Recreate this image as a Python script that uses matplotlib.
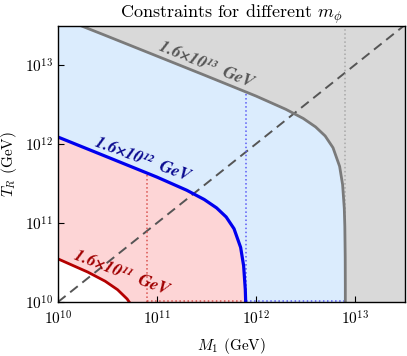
import matplotlib
matplotlib.use("Agg")
import matplotlib.pyplot as plt

plt.rcParams['font.family'] = ['cmr10', 'DejaVu Serif']
plt.rcParams['mathtext.fontset'] = 'cm'
plt.rcParams['axes.formatter.use_mathtext'] = True
plt.rcParams['axes.unicode_minus'] = False

# curve points (M1 in GeV, T_R in GeV)
m_gray = [1e10, 3e10, 1e11, 3e11, 1e12, 2e12, 3e12, 4e12, 5e12, 6e12, 7e12,
          7.5e12, 7.8e12, 7.9e12, 7.97e12, 7.99e12, 7.998e12]
t_gray = [4.07e13, 2.36e13, 1.29e13, 7.43e12, 4.03e12, 2.74e12, 2.10e12, 1.64e12,
          1.26e12, 8.95e11, 5.19e11, 3.05e11, 1.53e11, 9.06e10, 3.67e10, 1.6e10, 4.8e9]

m_blue = [1e10, 3e10, 1e11, 2e11, 3e11, 4e11, 5e11, 6e11, 7e11, 7.5e11,
          7.8e11, 7.9e11, 7.97e11]
t_blue = [1.22e12, 7.0e11, 3.80e11, 2.59e11, 1.98e11, 1.55e11, 1.19e11, 8.45e10,
          4.9e10, 2.88e10, 1.44e10, 8.6e9, 3.5e9]

m_red = [1e10, 2e10, 3e10, 4e10, 5e10, 6e10, 7e10]
t_red = [3.51e10, 2.39e10, 1.83e10, 1.43e10, 1.09e10, 7.8e9, 4.5e9]

# dotted markers at M1 = m_phi / 2
m_half = [8e10, 8e11, 8e12]
t_top = [4.27e11, 4.5e12, 3.2e13]

labels = ['1.6×10¹¹  GeV', '1.6×10¹²  GeV', '1.6×10¹³  GeV']

xmin, xmax = 1e10, 3.2e13
ymin, ymax = 1e10, 3.1e13

fig = plt.figure(figsize=(4.07, 3.56), dpi=100)
ax = fig.add_axes([0.1425, 0.1517, 0.8525, 0.7753])
ax.set_facecolor('#d9d9d9')

ax.fill_between(m_gray, 1e8, t_gray, color='#dbecfd', lw=0)
ax.fill_between(m_blue, 1e8, t_blue, color='#fdd5d6', lw=0)
ax.fill_between(m_red, 1e8, t_red, color='white', lw=0)

# T_R = M1
ax.plot([xmin, xmax], [xmin, xmax], ls=(0, (5, 3)), color='#555555', lw=1.4)

ax.plot([m_half[0]] * 2, [ymin, t_top[0]], ls=':', color='#d9534f', lw=1.1)
ax.plot([m_half[1]] * 2, [ymin, t_top[1]], ls=':', color='#5a5af5', lw=1.1)
ax.plot([m_half[2]] * 2, [ymin, t_top[2]], ls=':', color='#a8a8a8', lw=1.1)
ax.plot([m_half[0], m_half[1]], [ymin * 1.02] * 2, ls=':', color='#d9534f', lw=1.1)
ax.plot([m_half[1], m_half[2]], [ymin * 1.02] * 2, ls=':', color='#5a5af5', lw=1.1)

ax.plot(m_gray, t_gray, color='#7a7a7a', lw=2.0)
ax.plot(m_blue, t_blue, color='#0000ee', lw=2.3)
ax.plot(m_red, t_red, color='#b40000', lw=2.0)

lab_font = dict(family='STIXGeneral', weight='bold', style='italic', fontsize=12.5,
                ha='center', va='center', rotation_mode='anchor')
ax.text(3.1e11, 1.0e13, labels[2], color='#555555', rotation=-22, **lab_font)
ax.text(7.1e10, 6.3e11, labels[1], color='#0a0a90', rotation=-20.5, **lab_font)
ax.text(4.4e10, 2.3e10, labels[0], color='#a00000', rotation=-21, **lab_font)

ax.set_xscale('log')
ax.set_yscale('log')
ax.set_xlim(xmin, xmax)
ax.set_ylim(ymin, ymax)
ax.minorticks_off()
ax.tick_params(direction='in', length=4, width=0.8, labelsize=11, top=False, right=False)
ax.tick_params(axis='x', pad=5)
for s in ax.spines.values():
    s.set_linewidth(1.0)

ax.set_xlabel(r'$M_1$ (GeV)', fontsize=11, labelpad=6)
ax.set_ylabel(r'$T_R$ (GeV)', fontsize=11, labelpad=4)
ax.set_title(r'Constraints for different $m_\phi$', fontsize=13, pad=5)

fig.savefig('out.png', dpi=100)
